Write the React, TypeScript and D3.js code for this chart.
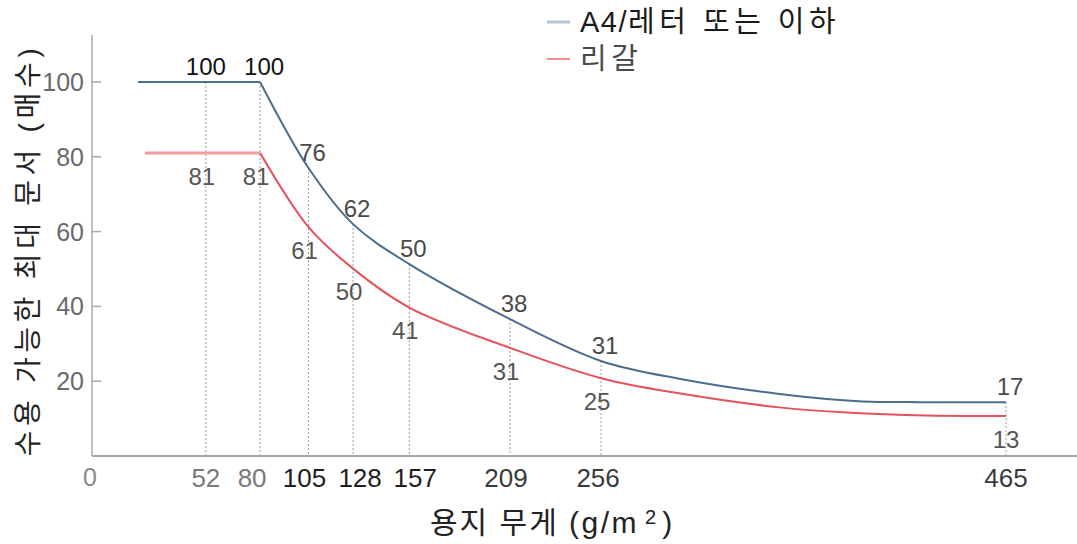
import React from "react";
import * as d3 from "d3";

const xTicks = [52, 80, 105, 128, 157, 209, 256, 465];
const yTicks = [20, 40, 60, 80, 100];
const blueLabels = [100, 100, 76, 62, 50, 38, 31, 17];
const redLabels = [81, 81, 61, 50, 41, 31, 25, 13];

const blueX = [17, 52, 80, 105, 128, 157, 209, 256, 297, 348, 391, 420, 465];
const blueY = [100, 100, 100, 77, 62, 51.3, 36.6, 25.4, 20.6, 16.6, 14.6, 14.4, 14.4];
const redX = [20.6, 52, 80, 105, 128, 157, 209, 256, 297, 348, 383, 424, 465];
const redY = [81, 81, 81, 61.2, 50.1, 39.7, 28.9, 20.8, 16.7, 13.0, 11.6, 10.8, 10.7];

const legendLatin = ["A4/", ""];
const legendHangul = ["레터 또는 이하", "리갈"];
const xTitleHangul = "용지 무게 ";
const xTitleUnit = "(g/m";
const yTitle = "수용 가능한 최대 문서 (매수)";

const W = 1077;
const H = 544;
const FONT = "'Liberation Sans', Arial, 'Noto Sans CJK KR', sans-serif";

// hand-placed label nudges (as in the original artwork)
const tickLabelNudge: Record<number, number> = { 80: -8, 105: -4, 128: 7, 157: 6, 209: -4, 256: -3 };

export default function App() {
  const x = d3.scaleLinear().domain([-7.8, 465]).range([90, 1006]);
  const y = d3.scaleLinear().domain([0, 100]).range([456, 82]);
  const axisX = 92;
  const axisY = 456;

  const pts = (xs: number[], ys: number[]) => xs.map((v, i) => [v, ys[i]] as [number, number]);
  const blue = pts(blueX, blueY);
  const red = pts(redX, redY);
  const split = (arr: [number, number][]) => {
    const k = arr.findIndex((p) => p[0] === 80);
    return [arr.slice(0, k + 1), arr.slice(k)];
  };
  const flatLine = d3.line<[number, number]>().x((d) => x(d[0])).y((d) => y(d[1]));
  const curveLine = d3
    .line<[number, number]>()
    .x((d) => x(d[0]))
    .y((d) => y(d[1]))
    .curve(d3.curveCatmullRom.alpha(0.5));
  const [bFlat, bCurve] = split(blue);
  const [rFlat, rCurve] = split(red);

  const blueAt = (v: number) => blueY[blueX.indexOf(v)];
  const redAt = (v: number) => redY[redX.indexOf(v)];

  const blueColor = "#4d6d8e";
  const redColor = "#e8505a";

  const tickColor = (v: number) => (v <= 80 ? "#7a7a7a" : v <= 157 ? "#1e1e1e" : "#3a3a3a");

  return (
    <svg width={W} height={H} style={{ display: "block", position: "absolute", left: 0, top: 0 }} fontFamily={FONT}>
      <rect width={W} height={H} fill="#fff" />
      {/* dotted verticals */}
      {xTicks.map((v) => (
        <line
          key={"d" + v}
          x1={x(v)}
          x2={x(v)}
          y1={y(blueAt(v))}
          y2={axisY}
          stroke="#9a9a9a"
          strokeWidth={1}
          strokeDasharray="2,2"
        />
      ))}
      {/* axes */}
      <line x1={axisX} x2={axisX} y1={35} y2={axisY} stroke="#a8a8a8" strokeWidth={1.5} />
      <line x1={axisX} x2={W} y1={axisY} y2={axisY} stroke="#a8a8a8" strokeWidth={2} />
      {yTicks.map((v) => (
        <g key={"y" + v}>
          <line x1={axisX} x2={axisX + 9} y1={y(v)} y2={y(v)} stroke="#a8a8a8" strokeWidth={1.5} />
          <text x={84} y={y(v)} dy="0.36em" textAnchor="end" fontSize={25} fill="#6a6a6a">
            {v}
          </text>
        </g>
      ))}
      <text x={axisX - 2} y={477} dy="0.36em" textAnchor="middle" fontSize={25} fill="#8a8a8a">
        0
      </text>
      {xTicks.map((v) => (
        <text
          key={"xt" + v}
          x={x(v) + (tickLabelNudge[v] || 0)}
          y={478}
          dy="0.36em"
          textAnchor="middle"
          fontSize={26}
          fill={tickColor(v)}
        >
          {v}
        </text>
      ))}
      {/* series */}
      <path d={flatLine(bFlat) || ""} fill="none" stroke={blueColor} strokeWidth={2} />
      <path d={curveLine(bCurve) || ""} fill="none" stroke={blueColor} strokeWidth={2} />
      <path d={flatLine(rFlat) || ""} fill="none" stroke="#f59a9e" strokeWidth={3} />
      <path d={curveLine(rCurve) || ""} fill="none" stroke={redColor} strokeWidth={2} />
      {/* value labels */}
      {xTicks.map((v, i) => (
        <text
          key={"bl" + v}
          x={x(v) + (v > 52 ? 4 : 0)}
          y={y(blueAt(v)) - 16}
          dy="0.36em"
          textAnchor="middle"
          fontSize={24}
          fill={i < 2 ? "#111" : "#4a4a4a"}
        >
          {blueLabels[i]}
        </text>
      ))}
      {xTicks.map((v, i) => (
        <text
          key={"rl" + v}
          x={x(v) - (v < 465 ? 4 : 0)}
          y={y(redAt(v)) + 23}
          dy="0.36em"
          textAnchor="middle"
          fontSize={24}
          fill="#555"
        >
          {redLabels[i]}
        </text>
      ))}
      {/* legend */}
      <line x1={547} x2={570} y1={22} y2={22} stroke="#b4c4d4" strokeWidth={3} />
      <text x={580} y={32} fontSize={29} fill="#1a1a1a">
        <tspan letterSpacing={1.5}>{legendLatin[0]}</tspan>
        <tspan letterSpacing={4.5}>{legendHangul[0]}</tspan>
      </text>
      <line x1={547} x2={570} y1={59} y2={59} stroke="#f28c8c" strokeWidth={2} />
      <text x={580} y={69} fontSize={29} fill="#4a4a4a" letterSpacing={4.5}>
        {legendLatin[1]}
        {legendHangul[1]}
      </text>
      {/* axis titles */}
      <text x={430} y={533} fontSize={30} fill="#222">
        <tspan letterSpacing={2}>{xTitleHangul}</tspan>
        <tspan letterSpacing={2.5}>{xTitleUnit}</tspan>
        <tspan dx={6} dy={-9} fontSize={20}>
          2
        </tspan>
        <tspan dx={6} dy={9}>
          )
        </tspan>
      </text>
      <text
        transform={`translate(28,250) rotate(-90)`}
        dy="0.36em"
        textAnchor="middle"
        fontSize={28}
        letterSpacing={4.7}
        fill="#222"
      >
        {yTitle}
      </text>
    </svg>
  );
}
